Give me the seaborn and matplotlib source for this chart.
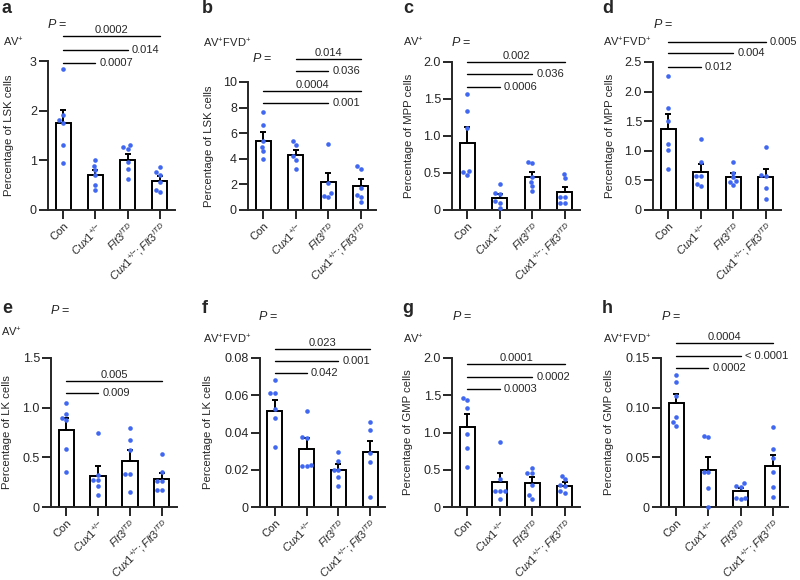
import matplotlib
matplotlib.use("Agg")
import matplotlib.pyplot as plt
import matplotlib.transforms as mtrans
import pandas as pd
import seaborn as sns

W, H = 800, 580
BLUE = "#3F67F2"

groups = ["Con", "Cux1", "Flt3", "Cux1;Flt3"]
group_labels = ["Con",
                r"$\mathit{Cux1}^{+/{-}}$",
                r"$\mathit{Flt3}^{\mathit{ITD}}$",
                r"$\mathit{Cux1}^{+/{-}}\mathit{;Flt3}^{\mathit{ITD}}$"]

AV = r"$\mathregular{AV^{+}}$"
AVFVD = r"$\mathregular{AV^{+}FVD^{+}}$"

# a - LSK, AV+
a_means = [1.75, 0.71, 1.00, 0.59]
a_sem = [0.27, 0.10, 0.13, 0.10]
a_points = [[2.83, 1.92, 1.81, 1.76, 1.31, 0.94],
            [1.00, 0.89, 0.80, 0.70, 0.51, 0.40],
            [1.31, 1.26, 1.23, 0.96, 0.82, 0.63],
            [0.86, 0.76, 0.70, 0.56, 0.41, 0.36]]
# b - LSK, AV+FVD+
b_means = [5.42, 4.32, 2.19, 1.85]
b_sem = [0.65, 0.34, 0.67, 0.55]
b_points = [[7.63, 6.67, 5.42, 4.95, 4.60, 3.98],
            [5.36, 5.05, 4.20, 3.90, 3.20],
            [5.13, 2.08, 1.30, 1.09, 0.99],
            [3.41, 3.18, 1.74, 1.17, 0.99, 0.63]]
# c - MPP, AV+
c_means = [0.91, 0.157, 0.45, 0.24]
c_sem = [0.215, 0.058, 0.07, 0.07]
c_points = [[1.565, 1.34, 1.11, 0.53, 0.51, 0.475],
            [0.35, 0.23, 0.22, 0.12, 0.10, 0.03],
            [0.65, 0.63, 0.45, 0.38, 0.32, 0.25],
            [0.49, 0.43, 0.18, 0.18, 0.10, 0.10]]
# d - MPP, AV+FVD+
d_means = [1.374, 0.647, 0.563, 0.563]
d_sem = [0.246, 0.133, 0.062, 0.137]
d_points = [[2.27, 1.73, 1.51, 1.11, 1.01, 0.69],
            [1.20, 0.805, 0.574, 0.574, 0.44, 0.40],
            [0.81, 0.63, 0.55, 0.49, 0.48, 0.43],
            [1.06, 0.59, 0.574, 0.366, 0.19]]
# e - LK, AV+
e_means = [0.775, 0.317, 0.468, 0.281]
e_sem = [0.117, 0.097, 0.107, 0.060]
e_points = [[1.05, 0.94, 0.90, 0.875, 0.58, 0.35],
            [0.74, 0.32, 0.27, 0.27, 0.21, 0.12],
            [0.80, 0.67, 0.57, 0.33, 0.33, 0.15],
            [0.53, 0.35, 0.26, 0.26, 0.17, 0.17]]
# f - LK, AV+FVD+
f_means = [0.0517, 0.0314, 0.0200, 0.0294]
f_sem = [0.0060, 0.0055, 0.0032, 0.0062]
f_points = [[0.0684, 0.0613, 0.0613, 0.0524, 0.0476, 0.0324],
            [0.0515, 0.0378, 0.0369, 0.0226, 0.0221, 0.0221],
            [0.0294, 0.0248, 0.020, 0.020, 0.016, 0.0114],
            [0.0454, 0.0413, 0.0292, 0.0239, 0.0053]]
# g - GMP, AV+
g_means = [1.078, 0.33, 0.321, 0.281]
g_sem = [0.165, 0.124, 0.080, 0.049]
g_points = [[1.465, 1.434, 1.323, 0.98, 0.79, 0.543],
            [0.87, 0.37, 0.22, 0.22, 0.22, 0.107],
            [0.52, 0.46, 0.454, 0.30, 0.156, 0.107],
            [0.42, 0.374, 0.30, 0.28, 0.21, 0.187]]
# h - GMP, AV+FVD+
h_means = [0.1047, 0.0376, 0.0158, 0.0416]
h_sem = [0.0094, 0.0124, 0.0037, 0.0111]
h_points = [[0.1326, 0.126, 0.112, 0.0903, 0.0856, 0.082],
            [0.071, 0.070, 0.035, 0.035, 0.019, 0.0],
            [0.024, 0.0215, 0.0205, 0.0095, 0.0095, 0.008],
            [0.0805, 0.058, 0.049, 0.035, 0.020, 0.010]]

# layout in pixels: box = (left, top, right, bottom) of the plot area
panels = [
    dict(letter="a", pos=(2, 13), cell=AV, cell_pos=(3, 42), p_pos=(57, 25),
         ylabel="Percentage of LSK cells", ylab_x=9, box=(48, 61, 175, 210),
         yticks=[0, 1, 2, 3], yticklabels=["0", "1", "2", "3"],
         means=a_means, sem=a_sem, points=a_points,
         comps=[(0, 3, 36, "0.0002", "above"), (0, 2, 50, "0.014", "right"),
                (0, 1, 63, "0.0007", "right")]),
    dict(letter="b", pos=(202, 13), cell=AVFVD, cell_pos=(203, 43), p_pos=(262, 59),
         ylabel="Percentage of LSK cells", ylab_x=209, box=(248, 82, 376, 210),
         yticks=[0, 2, 4, 6, 8, 10], yticklabels=["0", "2", "4", "6", "8", "10"],
         means=b_means, sem=b_sem, points=b_points,
         comps=[(1, 3, 59, "0.014", "above"), (1, 2, 71, "0.036", "right"),
                (0, 3, 91, "0.0004", "above"), (0, 2, 103, "0.001", "right")]),
    dict(letter="c", pos=(403, 13), cell=AV, cell_pos=(403, 42), p_pos=(461, 42),
         ylabel="Percentage of MPP cells", ylab_x=409, box=(452, 62, 580, 210),
         yticks=[0, 0.5, 1.0, 1.5, 2.0], yticklabels=["0", "0.5", "1.0", "1.5", "2.0"],
         means=c_means, sem=c_sem, points=c_points,
         comps=[(0, 3, 62, "0.002", "above"), (0, 2, 74, "0.036", "right"),
                (0, 1, 87, "0.0006", "right")]),
    dict(letter="d", pos=(602, 13), cell=AVFVD, cell_pos=(603, 42), p_pos=(663, 25),
         ylabel="Percentage of MPP cells", ylab_x=610, box=(653, 62, 781, 210),
         yticks=[0, 0.5, 1.0, 1.5, 2.0, 2.5],
         yticklabels=["0", "0.5", "1.0", "1.5", "2.0", "2.5"],
         means=d_means, sem=d_sem, points=d_points,
         comps=[(0, 3, 42, "0.005", "right"), (0, 2, 53, "0.004", "right"),
                (0, 1, 67, "0.012", "right")]),
    dict(letter="e", pos=(2, 313), cell=AV, cell_pos=(1, 332), p_pos=(60, 311),
         ylabel="Percentage of LK cells", ylab_x=7, box=(51, 358, 177, 507),
         yticks=[0, 0.5, 1.0, 1.5], yticklabels=["0", "0.5", "1.0", "1.5"],
         means=e_means, sem=e_sem, points=e_points,
         comps=[(0, 3, 381, "0.005", "above"), (0, 1, 393, "0.009", "right")]),
    dict(letter="f", pos=(202, 313), cell=AVFVD, cell_pos=(203, 339), p_pos=(268, 317),
         ylabel="Percentage of LK cells", ylab_x=208, box=(260, 358, 385, 507),
         yticks=[0, 0.02, 0.04, 0.06, 0.08],
         yticklabels=["0", "0.02", "0.04", "0.06", "0.08"],
         means=f_means, sem=f_sem, points=f_points,
         comps=[(0, 3, 349, "0.023", "above"), (0, 2, 361, "0.001", "right"),
                (0, 1, 373, "0.042", "right")]),
    dict(letter="g", pos=(402, 313), cell=AV, cell_pos=(403, 339), p_pos=(462, 317),
         ylabel="Percentage of GMP cells", ylab_x=408, box=(452, 358, 580, 507),
         yticks=[0, 0.5, 1.0, 1.5, 2.0], yticklabels=["0", "0.5", "1.0", "1.5", "2.0"],
         means=g_means, sem=g_sem, points=g_points,
         comps=[(0, 3, 364, "0.0001", "above"), (0, 2, 377, "0.0002", "right"),
                (0, 1, 389, "0.0003", "right")]),
    dict(letter="h", pos=(602, 313), cell=AVFVD, cell_pos=(603, 339), p_pos=(671, 317),
         ylabel="Percentage of GMP cells", ylab_x=609, box=(661, 358, 788, 507),
         yticks=[0, 0.05, 0.10, 0.15], yticklabels=["0", "0.05", "0.10", "0.15"],
         means=h_means, sem=h_sem, points=h_points,
         comps=[(0, 3, 343, "0.0004", "above"), (0, 2, 356, "< 0.0001", "right"),
                (0, 1, 368, "0.0002", "right")]),
]

sns.set_style("ticks")
plt.rcParams["font.family"] = ["Liberation Sans", "DejaVu Sans"]
plt.rcParams.update({
    "mathtext.fontset": "custom",
    "mathtext.rm": "Liberation Sans",
    "mathtext.it": "Liberation Sans:italic",
    "mathtext.bf": "Liberation Sans:bold",
})

fig = plt.figure(figsize=(W / 100, H / 100), dpi=100)


def fx(x):
    return x / W


def fy(y):
    return 1 - y / H


for p in panels:
    l, t, r, b = p["box"]
    ax = fig.add_axes([fx(l), fy(b), (r - l) / W, (b - t) / H])

    bars = pd.DataFrame({"group": groups, "mean": p["means"]})
    sns.barplot(data=bars, x="group", y="mean", order=groups, color="white",
                edgecolor="black", linewidth=1.4, width=0.47, errorbar=None,
                ax=ax, zorder=1)
    ax.errorbar(range(len(groups)), p["means"], yerr=[[0] * len(groups), p["sem"]],
                fmt="none", ecolor="black", elinewidth=1.4, capsize=2.5,
                capthick=1.4, zorder=2)

    pts = pd.DataFrame({
        "group": [g for g, vals in zip(groups, p["points"]) for _ in vals],
        "value": [v for vals in p["points"] for v in vals],
    })
    sns.swarmplot(data=pts, x="group", y="value", order=groups, color=BLUE,
                  size=3.3, linewidth=0, ax=ax, zorder=3, clip_on=False)

    ax.set_xlim(-0.47, 3.47)
    ax.set_ylim(0, p["yticks"][-1])
    ax.set_yticks(p["yticks"])
    ax.set_yticklabels(p["yticklabels"])
    ax.set_xticks(range(len(groups)))
    ax.set_xticklabels(group_labels, rotation=45, ha="right",
                       rotation_mode="anchor")
    ax.set_xlabel("")
    ax.set_ylabel(p["ylabel"], fontsize=8.2, va="center")
    ax.yaxis.set_label_coords((p["ylab_x"] - l) / (r - l), 0.5)
    sns.despine(ax=ax)
    for s in ["left", "bottom"]:
        ax.spines[s].set_linewidth(1.4)
    ax.tick_params(axis="y", width=1.4, length=6.5, labelsize=9, pad=1.5)
    ax.tick_params(axis="x", width=1.4, length=6.5, labelsize=8, pad=1)

    trans = mtrans.blended_transform_factory(ax.transData, fig.transFigure)
    for i, j, ypix, label, mode in p["comps"]:
        ax.plot([i, j], [fy(ypix)] * 2, transform=trans, color="black",
                lw=1.0, clip_on=False)
        if mode == "above":
            ax.annotate(label, xy=((i + j) / 2, fy(ypix)), xycoords=trans,
                        xytext=(0, 1), textcoords="offset points", ha="center",
                        va="bottom", fontsize=8, annotation_clip=False)
        else:
            ax.annotate(label, xy=(j, fy(ypix)), xycoords=trans,
                        xytext=(3, 0), textcoords="offset points", ha="left",
                        va="center", fontsize=8, annotation_clip=False)

    fig.text(fx(p["pos"][0]), fy(p["pos"][1]), p["letter"], fontsize=13,
             fontweight="bold", va="baseline", ha="left")
    fig.text(fx(p["cell_pos"][0]), fy(p["cell_pos"][1]), p["cell"], fontsize=8,
             ha="left", va="center")
    fig.text(fx(p["p_pos"][0]), fy(p["p_pos"][1]), r"$\mathit{P}$ =", fontsize=9,
             ha="center", va="center")

fig.savefig("out.png", dpi=100)
